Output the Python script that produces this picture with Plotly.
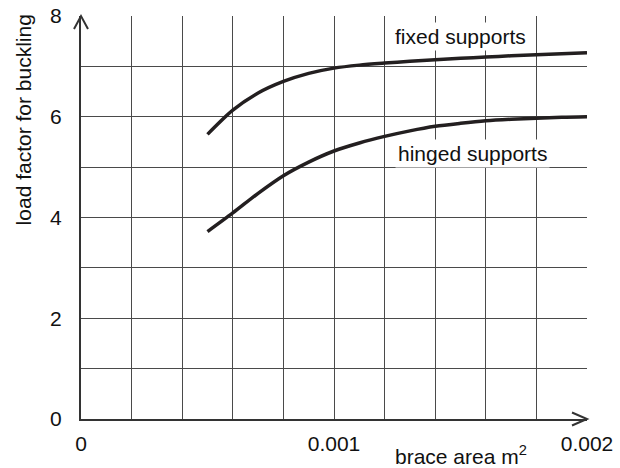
import plotly.graph_objects as go

brace_area = [0.0005, 0.0006, 0.0007, 0.0008, 0.0009, 0.0010, 0.0011, 0.0012,
              0.0013, 0.0014, 0.0015, 0.0016, 0.0017, 0.0018, 0.0019, 0.0020]
fixed_supports = [5.65, 6.13, 6.47, 6.70, 6.86, 6.965, 7.025, 7.065,
                  7.10, 7.13, 7.16, 7.185, 7.21, 7.23, 7.25, 7.27]
hinged_supports = [3.72, 4.09, 4.48, 4.83, 5.10, 5.32, 5.48, 5.61,
                   5.72, 5.81, 5.87, 5.92, 5.95, 5.97, 5.99, 6.00]

x_tickvals = [0, 0.001, 0.002]
x_ticktext = ["0", "0.001", "0.002"]
y_tickvals = [0, 2, 4, 6, 8]
y_ticktext = ["0", "2", "4", "6", "8"]

FONT = "Arial, Liberation Sans, sans-serif"
FS = 21
GRID = "#4a4a4a"
AX = "#333333"

fig = go.Figure()
for ys in (fixed_supports, hinged_supports):
    fig.add_trace(go.Scatter(x=brace_area, y=ys, mode="lines",
                             line=dict(color="#231f20", width=3.5, shape="spline", smoothing=0.8),
                             showlegend=False, hoverinfo="skip"))

fig.update_layout(
    width=620, height=468,
    margin=dict(l=81, r=33, t=16, b=49, autoexpand=False),
    paper_bgcolor="white", plot_bgcolor="white",
    font=dict(family=FONT, size=FS, color="#111111"),
    showlegend=False,
)
fig.update_xaxes(
    range=[0, 0.002], tickvals=x_tickvals, ticktext=x_ticktext,
    showgrid=True, gridcolor=GRID, gridwidth=1,
    minor=dict(dtick=0.0002, tick0=0, showgrid=True, gridcolor=GRID, gridwidth=1),
    showline=True, linecolor=AX, linewidth=2, mirror=False,
    ticks="", ticklabelstandoff=5, zeroline=False, automargin=False,
    tickfont=dict(family=FONT, size=FS, color="#111111"),
)
fig.update_yaxes(
    range=[0, 8], tickvals=y_tickvals, ticktext=y_ticktext,
    showgrid=True, gridcolor=GRID, gridwidth=1,
    minor=dict(dtick=1, tick0=0, showgrid=True, gridcolor=GRID, gridwidth=1),
    showline=True, linecolor=AX, linewidth=2, mirror=False,
    ticks="", ticklabelstandoff=13, zeroline=False, automargin=False,
    tickfont=dict(family=FONT, size=FS, color="#111111"),
)

# arrowheads at the axis ends (paper refs so they are not clipped)
fig.add_shape(type="path", xref="paper", yref="paper", xsizemode="pixel", ysizemode="pixel",
              xanchor=1, yanchor=0, path="M -15,-6.5 L 0,0 L -15,6.5",
              line=dict(color=AX, width=2))
fig.add_shape(type="path", xref="paper", yref="paper", xsizemode="pixel", ysizemode="pixel",
              xanchor=0, yanchor=1, path="M -7,-13 L 0,0 L 7,-13",
              line=dict(color=AX, width=2))

# curve labels
fig.add_annotation(x=0.0015, y=7.6, xref="x", yref="y", text="fixed supports",
                   showarrow=False, bgcolor="white", borderpad=2,
                   font=dict(family=FONT, size=FS, color="#111111"))
fig.add_annotation(x=0.001546, y=5.27, xref="x", yref="y", text="hinged supports",
                   showarrow=False, bgcolor="white", borderpad=2,
                   font=dict(family=FONT, size=FS, color="#111111"))

# axis titles
fig.add_annotation(x=0.0015, y=-0.1215, xref="x", yref="paper", text="brace area m<sup>2</sup>",
                   showarrow=False, yanchor="bottom", borderpad=0, yshift=-1,
                   font=dict(family=FONT, size=FS, color="#111111"))
fig.add_annotation(x=-0.1146, y=0.741, xref="paper", yref="paper",
                   text="load factor for buckling", textangle=-90,
                   showarrow=False, xanchor="center", yanchor="middle",
                   font=dict(family=FONT, size=FS, color="#111111"))

fig.write_html("out.html", config={"displayModeBar": False},
               post_script="document.body.style.margin='0';document.body.style.padding='0';")
